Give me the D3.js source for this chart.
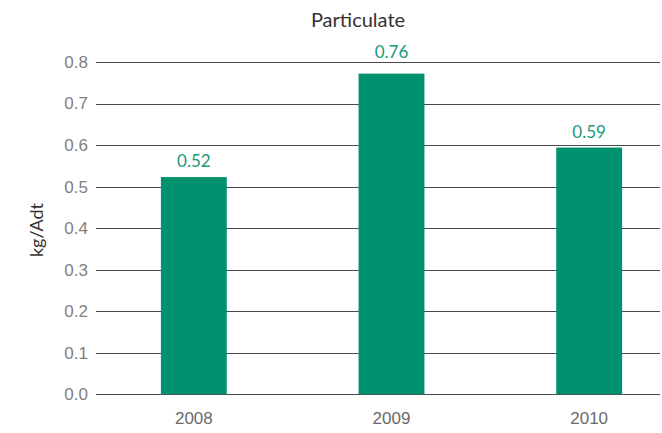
<!DOCTYPE html>
<html>
<head>
<meta charset="utf-8">
<script src="https://cdn.jsdelivr.net/npm/d3@7"></script>
<style>
  body { margin: 0; background: #fff; }
  svg { display: block; font-family: Lato, "Open Sans", sans-serif; }
</style>
</head>
<body>
<div id="chart"></div>
<script>
// Chart data
const years = ['2008', '2009', '2010'];
const values = [0.523, 0.772, 0.594];
const valueLabels = ['0.52', '0.76', '0.59'];
const yTicks = [0, 0.1, 0.2, 0.3, 0.4, 0.5, 0.6, 0.7, 0.8];

const width = 662;
const height = 433;

const svg = d3.select('#chart')
    .append('svg')
    .attr('width', width)
    .attr('height', height);

// Scales
const x = d3.scaleBand()
    .domain(years)
    .range([95, 688])
    .paddingInner(2 / 3)
    .paddingOuter(1 / 3);

const y = d3.scaleLinear()
    .domain([0, 0.8])
    .range([394.3, 62]);

// Gridlines + y tick labels
const yAxis = d3.axisLeft(y)
    .tickValues(yTicks)
    .tickFormat(d3.format('.1f'))
    .tickSize(-(660 - 96))
    .tickPadding(8);

const gy = svg.append('g')
    .attr('transform', 'translate(96,0)')
    .call(yAxis);

gy.select('.domain').remove();
gy.selectAll('.tick line')
    .attr('stroke', '#4a4a4a')
    .attr('stroke-width', 1)
    .attr('shape-rendering', 'crispEdges');
gy.selectAll('.tick text')
    .attr('fill', '#808080')
    .style('font-size', '17px');

// Bars
svg.selectAll('rect.bar')
    .data(values)
    .enter()
    .append('rect')
    .attr('class', 'bar')
    .attr('x', (d, i) => x(years[i]))
    .attr('width', x.bandwidth())
    .attr('y', d => y(d))
    .attr('height', d => y(0) - y(d))
    .attr('fill', '#00916e');

// Value labels - lift a label above the top gridline if it would sit on it
const topLine = y(d3.max(yTicks));
function labelY(d) {
    const base = y(d) - 10;
    if (base - 12 < topLine && base > topLine - 4) return topLine - 4;
    return base;
}

svg.selectAll('text.value')
    .data(values)
    .enter()
    .append('text')
    .attr('class', 'value')
    .attr('x', (d, i) => x(years[i]) + x.bandwidth() / 2)
    .attr('y', labelY)
    .attr('text-anchor', 'middle')
    .attr('fill', '#1a9a78')
    .style('font-size', '17px')
    .text((d, i) => valueLabels[i]);

// X axis labels
const xAxis = d3.axisBottom(x).tickSize(0).tickPadding(18);
const gx = svg.append('g')
    .attr('transform', `translate(0,${y(0)})`)
    .call(xAxis);
gx.select('.domain').remove();
gx.selectAll('.tick text')
    .attr('fill', '#6a6a6a')
    .style('font-size', '17px');

// Title
svg.append('text')
    .attr('x', 358)
    .attr('y', 27)
    .attr('text-anchor', 'middle')
    .attr('fill', '#333')
    .style('font-size', '20px')
    .text('Particulate');

// Y axis title
svg.append('text')
    .attr('transform', 'translate(43,230) rotate(-90)')
    .attr('text-anchor', 'middle')
    .attr('fill', '#333')
    .style('font-size', '18px')
    .text('kg/Adt');
</script>
</body>
</html>
